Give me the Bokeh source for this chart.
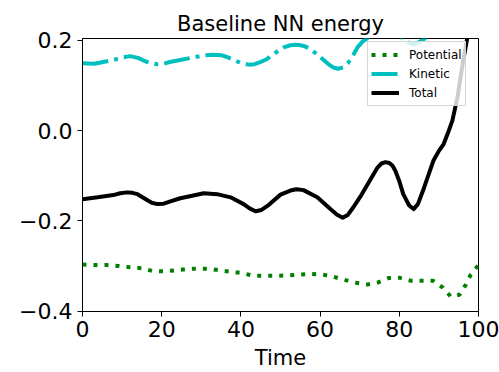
from bokeh.plotting import figure
from bokeh.models import Range1d, FixedTicker, CustomJSTickFormatter, Legend, LegendItem
from bokeh.embed import file_html
from bokeh.resources import INLINE

# ---- data ----
pot_t = [0, 3, 6, 9, 12, 15, 17.6, 20.5, 23.5, 26.3, 29, 31.8, 34.8, 37.8, 40.4,
         43.2, 46.2, 49, 52, 54.8, 57.8, 60.6, 63.4, 66.2, 68.9, 72, 74.5, 77.3,
         80, 83, 86, 88.6, 91, 93, 95.2, 96.7, 98, 100]
potential = [-0.297, -0.298, -0.298, -0.300, -0.303, -0.305, -0.311, -0.312, -0.310,
             -0.307, -0.306, -0.306, -0.310, -0.313, -0.316, -0.322, -0.322, -0.322,
             -0.321, -0.319, -0.318, -0.319, -0.324, -0.331, -0.337, -0.341, -0.337,
             -0.327, -0.326, -0.333, -0.333, -0.333, -0.348, -0.368, -0.364, -0.343,
             -0.320, -0.298]

kin_t = [0, 3, 8, 10, 12, 14, 16, 17.5, 19, 20.5, 22, 25, 28, 31, 33, 35, 36.5, 38,
         40, 42, 43.5, 45, 46.5, 48, 49.5, 51, 52.5, 54, 55, 56, 57.3, 58.5, 60, 62,
         63.3, 64.5, 65.8, 67, 68.3, 69.5, 70.7, 72, 74, 77, 79, 80.8, 82.5, 83.6,
         85, 86.6, 88, 90, 95, 100]
kinetic = [0.149, 0.148, 0.157, 0.162, 0.165, 0.161, 0.153, 0.149, 0.147, 0.148,
           0.152, 0.157, 0.162, 0.167, 0.168, 0.167, 0.163, 0.157, 0.150, 0.146,
           0.147, 0.152, 0.158, 0.168, 0.177, 0.185, 0.189, 0.190, 0.189, 0.187,
           0.182, 0.174, 0.163, 0.148, 0.140, 0.137, 0.140, 0.149, 0.166, 0.185,
           0.197, 0.205, 0.235, 0.250, 0.230, 0.205, 0.194, 0.191, 0.196, 0.205,
           0.230, 0.270, 0.360, 0.460]

tot_t = [0, 3.8, 7.8, 9.5, 11.3, 12.6, 13.9, 16.3, 17.5, 18.9, 20.5, 22.2, 24.7, 28,
         30.6, 34, 37.4, 40.7, 42.3, 43.7, 45.2, 46.7, 50, 52.5, 54, 55.8, 59.3,
         62.6, 64.2, 65.7, 67, 68.4, 70.2, 72, 74.5, 75.5, 76.5, 77.5, 78.3, 79, 80,
         81, 82.5, 83.6, 84.7, 86, 87.3, 88.6, 90, 91.2, 92.3, 93.4, 94.7, 96, 97.2,
         100]
total = [-0.152, -0.148, -0.143, -0.139, -0.137, -0.138, -0.141, -0.154, -0.160,
         -0.163, -0.162, -0.157, -0.150, -0.144, -0.139, -0.141, -0.148, -0.163,
         -0.173, -0.179, -0.176, -0.167, -0.142, -0.133, -0.130, -0.132, -0.148,
         -0.174, -0.186, -0.193, -0.187, -0.170, -0.146, -0.119, -0.082, -0.073,
         -0.070, -0.072, -0.078, -0.089, -0.112, -0.141, -0.166, -0.174, -0.163,
         -0.133, -0.100, -0.067, -0.045, -0.030, -0.005, 0.022, 0.074, 0.148, 0.207,
         0.300]

x_ticks = [0, 20, 40, 60, 80, 100]
y_ticks = [-0.4, -0.2, 0.0, 0.2]

FONT = "DejaVu Sans"

p = figure(width=499, height=372, output_backend="svg", toolbar_location=None,
           x_range=Range1d(0, 100), y_range=Range1d(-0.401, 0.204),
           min_border_left=82, min_border_right=21, min_border_top=38,
           min_border_bottom=60)

p.title.text = "Baseline NN energy"
p.title.align = "center"
p.title.text_font = FONT
p.title.text_font_size = "21px"
p.title.text_font_style = "normal"
p.title.text_color = "black"
p.title.standoff = 6

p.xgrid.visible = False
p.ygrid.visible = False
p.outline_line_color = "black"
p.outline_line_width = 1
p.background_fill_color = "white"
p.border_fill_color = "white"

for ax in (p.xaxis[0], p.yaxis[0]):
    ax.major_label_text_font = FONT
    ax.major_label_text_font_size = "22px"
    ax.major_label_text_color = "black"
    ax.axis_line_color = "black"
    ax.major_tick_line_color = "black"
    ax.major_tick_in = 0
    ax.major_tick_out = 5
    ax.minor_tick_line_color = None

p.xaxis.ticker = FixedTicker(ticks=x_ticks)
p.yaxis.ticker = FixedTicker(ticks=y_ticks)
p.yaxis.formatter = CustomJSTickFormatter(
    code="return tick.toFixed(1).replace('-', '\u2212');")
p.xaxis.major_label_standoff = 4
p.yaxis.major_label_standoff = 5
p.xaxis.axis_label = "Time"
p.xaxis.axis_label_text_font = FONT
p.xaxis.axis_label_text_font_size = "21px"
p.xaxis.axis_label_text_font_style = "normal"
p.xaxis.axis_label_text_color = "black"
p.xaxis.axis_label_standoff = 6

r_pot = p.line(pot_t, potential, line_color="#008000", line_width=4,
               line_dash="4 7", line_cap="butt")
r_kin = p.line(kin_t, kinetic, line_color="#00bfbf", line_width=4,
               line_dash="26 6 4 6", line_cap="butt")
r_tot = p.line(tot_t, total, line_color="black", line_width=4, line_join="round")

legend = Legend(items=[LegendItem(label="Potential", renderers=[r_pot]),
                       LegendItem(label="Kinetic", renderers=[r_kin]),
                       LegendItem(label="Total", renderers=[r_tot])],
                location=(285, 205))
legend.label_text_font = FONT
legend.label_text_font_size = "12px"
legend.label_text_color = "black"
legend.glyph_width = 28
legend.glyph_height = 19
legend.label_height = 19
legend.label_standoff = 10
legend.spacing = 0
legend.padding = 3
legend.margin = 0
legend.background_fill_color = "white"
legend.background_fill_alpha = 0.8
legend.border_line_color = "#cccccc"
legend.border_line_alpha = 0.8
p.add_layout(legend)

open("out.html", "w").write(file_html(p, INLINE))
